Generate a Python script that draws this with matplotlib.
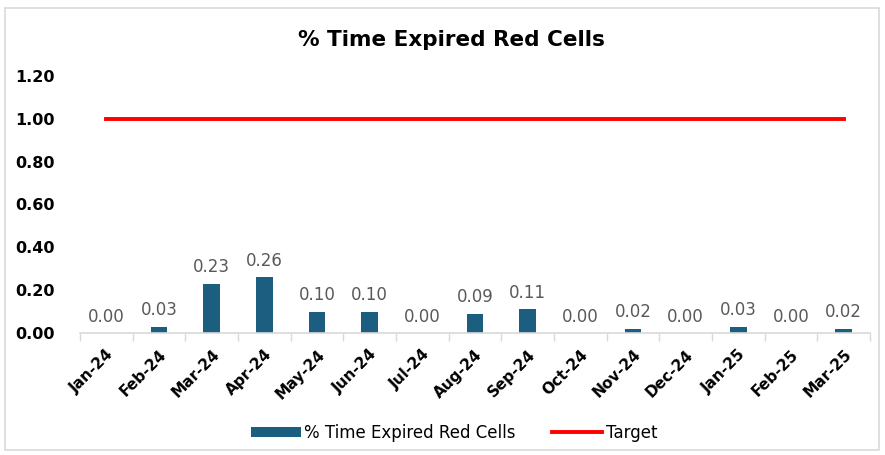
import numpy as np
import matplotlib
matplotlib.use("Agg")
import matplotlib.pyplot as plt
from matplotlib.patches import Rectangle

# monthly data
months = ["Jan-24", "Feb-24", "Mar-24", "Apr-24", "May-24", "Jun-24", "Jul-24", "Aug-24",
          "Sep-24", "Oct-24", "Nov-24", "Dec-24", "Jan-25", "Feb-25", "Mar-25"]
expired = [0.00, 0.03, 0.23, 0.26, 0.10, 0.10, 0.00, 0.09, 0.11, 0.00, 0.02, 0.00, 0.03, 0.00, 0.02]
target = [1.00] * len(months)
y_ticks = [0.00, 0.20, 0.40, 0.60, 0.80, 1.00, 1.20]

bar_col = "#1b5e80"
x = np.arange(len(months))

fig = plt.figure(figsize=(8.85, 4.55), dpi=100)
fig.patches.append(Rectangle((5 / 885, 5 / 455), 874 / 885, 442 / 455, transform=fig.transFigure,
                             fill=False, edgecolor="#d9d9d9", linewidth=1.2))
ax = fig.add_axes([80 / 885, 1 - 333 / 455, 790 / 885, 257 / 455])

bars = ax.bar(x, expired, width=0.32, color=bar_col, label="% Time Expired Red Cells", zorder=2)
line, = ax.plot(x, target, color="#ff0000", linewidth=2.8, label="Target", zorder=3)

for xi, v in zip(x, expired):
    ax.text(xi, v + 0.035, f"{v:.2f}", ha="center", va="bottom", fontsize=12,
            color="#595959", family="DejaVu Sans")

ax.set_xlim(-0.5, len(months) - 0.5)
ax.set_ylim(0, 1.2)
ax.set_yticks(y_ticks)
ax.set_yticklabels([f"{t:.2f}" for t in y_ticks], fontsize=11.5, fontweight="bold",
                   family="DejaVu Sans")
ax.tick_params(axis="y", length=0, pad=18)

ax.set_xticks(x)
ax.set_xticklabels(months, rotation=45, ha="right", rotation_mode="anchor", fontsize=11,
                   fontweight="bold", family="DejaVu Sans")
ax.tick_params(axis="x", length=0, pad=10)
ax.set_xticks(np.arange(-0.5, len(months)), minor=True)
ax.tick_params(axis="x", which="minor", length=6, color="#d9d9d9", width=1)

for s in ["top", "right", "left"]:
    ax.spines[s].set_visible(False)
ax.spines["bottom"].set_color("#d9d9d9")
ax.spines["bottom"].set_linewidth(1.2)

fig.text(451 / 885, 1 - 40 / 455, "% Time Expired Red Cells", ha="center", va="center",
         fontsize=15.5, fontweight="bold", family="DejaVu Sans")

fig.legend([bars, line], ["% Time Expired Red Cells", "Target"], loc="center",
           bbox_to_anchor=(454 / 885, 1 - 433 / 455), ncol=2, frameon=False,
           handlelength=3.0, handleheight=0.6, columnspacing=2.2, handletextpad=0.2,
           prop={"family": "DejaVu Sans", "size": 12})

fig.savefig("out.png", dpi=100)
